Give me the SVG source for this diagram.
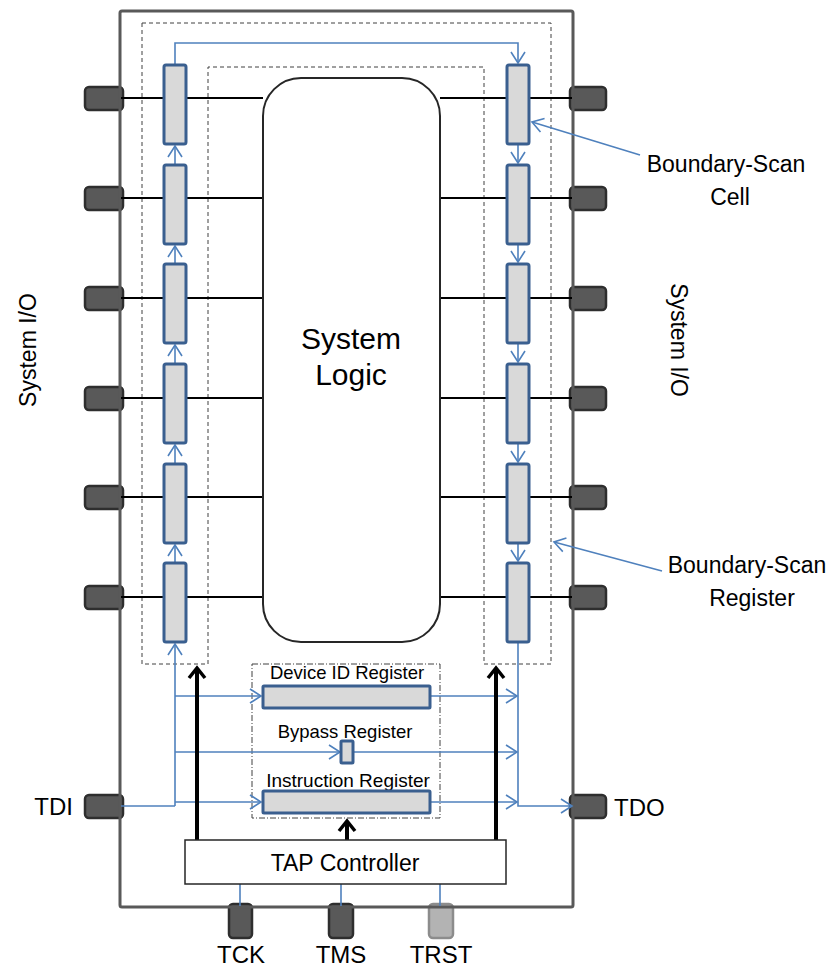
<svg xmlns="http://www.w3.org/2000/svg" width="832" height="967" viewBox="0 0 832 967">
<defs>
<style>
.t{font-family:"Liberation Sans",Arial,sans-serif;fill:#000}
.cell{fill:#d9d9d9;stroke:#3a5f8f;stroke-width:3}
.pin{fill:#595959;stroke:#2e2e2e;stroke-width:2.5}
.bl{stroke:#4f81bd;stroke-width:1.6;fill:none}
.k{stroke:#000;stroke-width:2;fill:none}
.kk{stroke:#000;stroke-width:4;fill:none}
</style>
<marker id="ab" markerUnits="userSpaceOnUse" markerWidth="16" markerHeight="18" refX="12" refY="8" orient="auto" overflow="visible">
<path d="M1,1 L12,8 L1,15" fill="none" stroke="#4f81bd" stroke-width="1.6"/>
</marker>
<marker id="ak" markerUnits="userSpaceOnUse" markerWidth="16" markerHeight="20" refX="11" refY="9" orient="auto" overflow="visible">
<path d="M1,1 L11,9 L1,17" fill="none" stroke="#000" stroke-width="3.5"/>
</marker>
</defs>
<rect width="832" height="967" fill="#fff"/>

<g id="chip">
<rect x="120" y="11" width="453" height="896" rx="2" fill="#fff" stroke="none"/>
</g>

<g id="pins">
<rect class="pin" x="85" y="87" width="38" height="23" rx="4"/>
<rect class="pin" x="85" y="187" width="38" height="23" rx="4"/>
<rect class="pin" x="85" y="287" width="38" height="23" rx="4"/>
<rect class="pin" x="85" y="387" width="38" height="23" rx="4"/>
<rect class="pin" x="85" y="486" width="38" height="23" rx="4"/>
<rect class="pin" x="85" y="586" width="38" height="23" rx="4"/>
<rect class="pin" x="570" y="87" width="36" height="23" rx="4"/>
<rect class="pin" x="570" y="187" width="36" height="23" rx="4"/>
<rect class="pin" x="570" y="287" width="36" height="23" rx="4"/>
<rect class="pin" x="570" y="387" width="36" height="23" rx="4"/>
<rect class="pin" x="570" y="486" width="36" height="23" rx="4"/>
<rect class="pin" x="570" y="586" width="36" height="23" rx="4"/>
<rect id="pin-tdi" class="pin" x="85" y="795" width="38" height="23" rx="4"/>
<rect id="pin-tdo" class="pin" x="570" y="795" width="36" height="23" rx="4"/>
<rect id="pin-tck" class="pin" x="229" y="904" width="23" height="34" rx="4"/>
<rect id="pin-tms" class="pin" x="329" y="904" width="24" height="34" rx="4"/>
<rect id="pin-trst" x="429" y="904" width="24" height="34" rx="4" fill="#b3b3b3" stroke="#8c8c8c" stroke-width="2.5"/>
</g>

<g id="chip-border">
<rect x="120" y="11" width="453" height="896" rx="2" fill="none" stroke="#595959" stroke-width="3"/>
</g>

<g id="bsr-outline">
<path d="M142,23 H551 V664 H484 V67 H208 V664 H142 Z" fill="none" stroke="#404040" stroke-width="1" stroke-dasharray="4,3"/>
</g>
<g id="reg-outline">
<rect x="252" y="664" width="188" height="154" fill="none" stroke="#404040" stroke-width="1" stroke-dasharray="6,2,1,2"/>
</g>

<g id="connectors">
<path class="k" d="M121,98 H263 M121,198 H263 M121,298 H263 M121,398 H263 M121,497 H263 M121,597 H263"/>
<path class="k" d="M440,98 H572 M440,198 H572 M440,298 H572 M440,398 H572 M440,497 H572 M440,597 H572"/>
<line class="bl" x1="175" y1="165" x2="175" y2="146" marker-end="url(#ab)"/>
<line class="bl" x1="175" y1="264" x2="175" y2="246" marker-end="url(#ab)"/>
<line class="bl" x1="175" y1="364" x2="175" y2="345" marker-end="url(#ab)"/>
<line class="bl" x1="175" y1="464" x2="175" y2="445" marker-end="url(#ab)"/>
<line class="bl" x1="175" y1="563" x2="175" y2="545" marker-end="url(#ab)"/>
<path class="bl" d="M175,806 V644" marker-end="url(#ab)"/>
<path class="bl" d="M175,65 V43 H518 V63" marker-end="url(#ab)"/>
<line class="bl" x1="518" y1="144" x2="518" y2="163" marker-end="url(#ab)"/>
<line class="bl" x1="518" y1="244" x2="518" y2="262" marker-end="url(#ab)"/>
<line class="bl" x1="518" y1="343" x2="518" y2="362" marker-end="url(#ab)"/>
<line class="bl" x1="518" y1="443" x2="518" y2="462" marker-end="url(#ab)"/>
<line class="bl" x1="518" y1="543" x2="518" y2="561" marker-end="url(#ab)"/>
<path class="bl" d="M518,642 V806 H572" marker-end="url(#ab)"/>
<line class="bl" x1="121" y1="806" x2="175" y2="806"/>
<line class="bl" x1="175" y1="696" x2="261" y2="696" marker-end="url(#ab)"/>
<line class="bl" x1="175" y1="752" x2="340" y2="752" marker-end="url(#ab)"/>
<line class="bl" x1="175" y1="802" x2="261" y2="802" marker-end="url(#ab)"/>
<line class="bl" x1="431" y1="696" x2="517" y2="696" marker-end="url(#ab)"/>
<line class="bl" x1="354" y1="752" x2="517" y2="752" marker-end="url(#ab)"/>
<line class="bl" x1="431" y1="802" x2="517" y2="802" marker-end="url(#ab)"/>
<path class="bl" d="M240,884 V906 M341,884 V906 M440,884 V906" stroke-width="1.3"/>
<line class="kk" x1="197" y1="840" x2="197" y2="668" marker-end="url(#ak)"/>
<line class="kk" x1="496" y1="840" x2="496" y2="668" marker-end="url(#ak)"/>
<line class="kk" x1="347" y1="840" x2="347" y2="821" marker-end="url(#ak)"/>
<line class="bl" x1="640" y1="155" x2="532" y2="122" marker-end="url(#ab)"/>
<line class="bl" x1="662" y1="571" x2="554" y2="542" marker-end="url(#ab)"/>
</g>

<g id="system-logic">
<rect x="263" y="78" width="177" height="564" rx="38" fill="#fff" stroke="#262626" stroke-width="2"/>
<text class="t" x="351" y="349" font-size="30" text-anchor="middle">System</text>
<text class="t" x="351" y="385" font-size="30" text-anchor="middle">Logic</text>
</g>

<g id="left-cells">
<rect class="cell" x="164" y="65" width="22" height="79" rx="2"/>
<rect class="cell" x="164" y="165" width="22" height="79" rx="2"/>
<rect class="cell" x="164" y="264" width="22" height="79" rx="2"/>
<rect class="cell" x="164" y="364" width="22" height="79" rx="2"/>
<rect class="cell" x="164" y="464" width="22" height="79" rx="2"/>
<rect class="cell" x="164" y="563" width="22" height="79" rx="2"/>
</g>
<g id="right-cells">
<rect class="cell" x="507" y="65" width="22" height="79" rx="2"/>
<rect class="cell" x="507" y="165" width="22" height="79" rx="2"/>
<rect class="cell" x="507" y="264" width="22" height="79" rx="2"/>
<rect class="cell" x="507" y="364" width="22" height="79" rx="2"/>
<rect class="cell" x="507" y="464" width="22" height="79" rx="2"/>
<rect class="cell" x="507" y="563" width="22" height="79" rx="2"/>
</g>

<g id="device-id-register">
<text class="t" x="347" y="679" font-size="18.5" text-anchor="middle">Device ID Register</text>
<rect class="cell" x="263" y="686" width="167" height="22" rx="1"/>
</g>
<g id="bypass-register">
<text class="t" x="345" y="738" font-size="18.5" text-anchor="middle">Bypass Register</text>
<rect class="cell" x="341" y="741" width="12" height="22" rx="1"/>
</g>
<g id="instruction-register">
<text class="t" x="348" y="787" font-size="19" text-anchor="middle">Instruction Register</text>
<rect class="cell" x="263" y="791" width="167" height="22" rx="1"/>
</g>

<g id="tap-controller">
<rect x="185" y="840" width="321" height="44" fill="#fff" stroke="#262626" stroke-width="1.5"/>
<text class="t" x="345" y="871" font-size="23" text-anchor="middle">TAP Controller</text>
</g>

<g id="labels">
<text class="t" x="73" y="815" font-size="24" text-anchor="end">TDI</text>
<text class="t" x="614" y="816" font-size="24">TDO</text>
<text class="t" x="241" y="963" font-size="24" text-anchor="middle">TCK</text>
<text class="t" x="341" y="963" font-size="24" text-anchor="middle">TMS</text>
<text class="t" x="441" y="963" font-size="24" text-anchor="middle">TRST</text>
<text class="t" font-size="23" text-anchor="middle" transform="translate(36,350) rotate(-90)">System I/O</text>
<text class="t" font-size="23" text-anchor="middle" transform="translate(671,340) rotate(90)">System I/O</text>
<text class="t" x="726" y="172" font-size="23" text-anchor="middle">Boundary-Scan</text>
<text class="t" x="730" y="205" font-size="23" text-anchor="middle">Cell</text>
<text class="t" x="747" y="573" font-size="23" text-anchor="middle">Boundary-Scan</text>
<text class="t" x="752" y="606" font-size="23" text-anchor="middle">Register</text>
</g>
</svg>
